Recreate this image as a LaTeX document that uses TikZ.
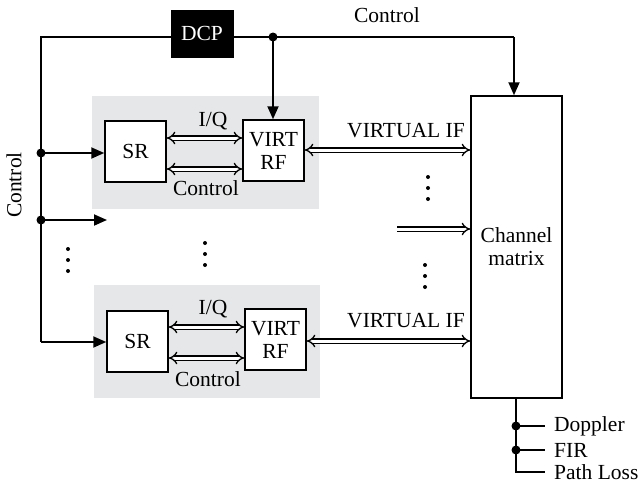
\documentclass[tikz,border=0pt]{standalone}
\usepackage{fontspec}
\setmainfont{Liberation Serif}
\usetikzlibrary{arrows.meta}
\definecolor{panelgray}{RGB}{230,231,232}
\tikzset{
  blk/.style={draw, line width=1.5pt, fill=white, minimum width=61pt, minimum height=61pt, inner sep=0pt, align=center},
  sig/.style={line width=1.8pt},
  tip/.style={-{Triangle[length=13pt,width=11pt]}},
  dbl/.style={double, double distance=3pt, line width=1.3pt},
  dotj/.style={circle, fill=black, inner sep=0pt, minimum size=9pt},
  lbl/.style={inner sep=0pt}
}
\begin{document}
\begin{tikzpicture}[x=1pt,y=-1pt, font=\fontsize{21.5}{23}\selectfont]
\useasboundingbox (0,0) rectangle (638,485);
% gray panels
\fill[panelgray] (92,96) rectangle (319,209);
\fill[panelgray] (94,285) rectangle (320,398);
% boxes
\node[draw, fill=black, text=white, minimum width=62pt, minimum height=47pt, inner sep=0pt] (dcp) at (202,33.5) {DCP};
\node[blk] (sr1) at (135.5,151.5) {SR};
\node[blk] (vrf1) at (273.5,150.5) {VIRT\\RF};
\node[blk] (sr2) at (137.5,341.5) {SR};
\node[blk] (vrf2) at (275.5,339.5) {VIRT\\RF};
\node[draw, line width=1.5pt, fill=white, minimum width=91pt, minimum height=302pt, inner sep=0pt, align=center] (cm) at (516.5,247) {Channel\\matrix};
% coordinates
\coordinate (tl) at (41,37);
\coordinate (c1) at (41,153);
\coordinate (c2) at (41,220);
\coordinate (c3) at (41,342);
\coordinate (a2) at (107,220);
\coordinate (jt) at (273,37);
\coordinate (tr) at (514,37);
\coordinate (m0) at (397,229);
\coordinate (b1) at (516,426);
\coordinate (b2) at (516,450);
\coordinate (b3) at (516,472);
\coordinate (e1) at (545,426);
\coordinate (e2) at (545,450);
\coordinate (e3) at (545,472);
% control lines
\draw[sig] (tl -| dcp.west) -- (tl) -- (c3);
\draw[sig, tip] (c3) -- (sr2.west |- c3);
\draw[sig, tip] (c1) -- (sr1.west |- c1);
\draw[sig, tip] (c2) -- (a2);
\draw[sig] (tl -| dcp.east) -- (tr);
\draw[sig, tip] (tr) -- (cm.north -| tr);
\draw[sig, tip] (jt) -- (vrf1.north -| jt);
\node[dotj] (d1) at (c1) {};
\node[dotj] (d2) at (c2) {};
\node[dotj] (dj) at (jt) {};
% double arrows
\draw[dbl, {Implies}-{Implies}] (sr1.east |- 0,138) -- (vrf1.west |- 0,138);
\draw[dbl, {Implies}-{Implies}] (sr1.east |- 0,169) -- (vrf1.west |- 0,169);
\draw[dbl, {Implies}-{Implies}] (sr2.east |- 0,327) -- (vrf2.west |- 0,327);
\draw[dbl, {Implies}-{Implies}] (sr2.east |- 0,358) -- (vrf2.west |- 0,358);
\draw[dbl, {Implies}-{Implies}] (vrf1.east |- 0,150) -- (cm.west |- 0,150);
\draw[dbl, {Implies}-{Implies}] (vrf2.east |- 0,341) -- (cm.west |- 0,341);
\draw[dbl, -{Implies}] (m0) -- (cm.west |- m0);
% bottom taps
\draw[sig] (cm.south -| b1) -- (b3) -- (e3);
\draw[sig] (b1) -- (e1);
\draw[sig] (b2) -- (e2);
\node[dotj] (db1) at (b1) {};
\node[dotj] (db2) at (b2) {};
\node[lbl, anchor=west] (lDop) at (554,426) {Doppler};
\node[lbl, anchor=west] (lFir) at (554,450) {FIR};
\node[lbl, anchor=west] (lPL) at (554,472) {Path Loss};
% labels
\node[lbl] (lctop) at (387,15) {Control};
\node[lbl, rotate=90] (lcleft) at (14,185) {Control};
\node[lbl] (liq1) at (213,121) {I/Q};
\node[lbl] (lcc1) at (206,188) {Control};
\node[lbl] (liq2) at (213,309) {I/Q};
\node[lbl] (lcc2) at (208,379) {Control};
\node[lbl] (lvif1) at (406,131) {VIRTUAL IF};
\node[lbl] (lvif2) at (406,321) {VIRTUAL IF};
% ellipses
\foreach \x/\y in {68/260, 205/254, 428/188, 425/276} {
  \fill (\x,\y-11) circle (2pt);
  \fill (\x,\y) circle (2pt);
  \fill (\x,\y+11) circle (2pt);
}
\end{tikzpicture}
\end{document}
